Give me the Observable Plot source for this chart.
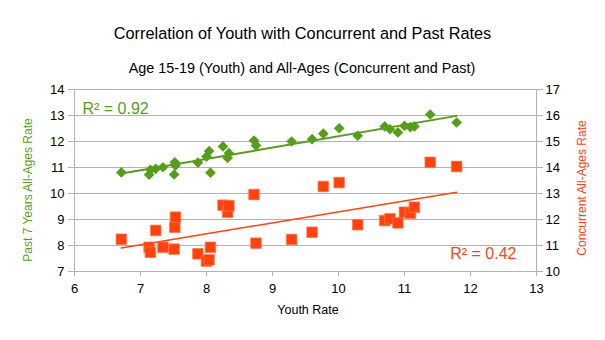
<!DOCTYPE html>
<html><head><meta charset="utf-8">
<script src="https://cdn.jsdelivr.net/npm/d3@7"></script>
<script src="https://cdn.jsdelivr.net/npm/@observablehq/plot@0.6"></script>
<style>body{margin:0;background:#fff;} svg{display:block}</style>
</head><body><div id="chart"></div>
<script>
const title = "Correlation of Youth with Concurrent and Past Rates";
const subtitle = "Age 15-19 (Youth) and All-Ages (Concurrent and Past)";
const xLabel = "Youth Rate";
const leftLabel = "Past 7 Years All-Ages Rate";
const rightLabel = "Concurrent All-Ages Rate";
const r2Labels = ["R² = 0.92", "R² = 0.42"];

const youth = [6.71, 7.13, 7.15, 7.23, 7.34, 7.51, 7.52, 7.53, 7.87, 8.00, 8.04, 8.06, 8.25, 8.32, 8.34, 8.72, 8.75, 9.29, 9.60, 9.77, 10.01, 10.29, 10.70, 10.78, 10.90, 11.00, 11.09, 11.15, 11.39, 11.79];
const past = [10.81, 10.72, 10.91, 10.95, 11.01, 10.73, 11.20, 11.08, 11.19, 11.42, 11.63, 10.80, 11.81, 11.37, 11.55, 12.04, 11.85, 12.00, 12.09, 12.30, 12.51, 12.22, 12.58, 12.47, 12.35, 12.60, 12.55, 12.58, 13.04, 12.73];
const concurrent = [11.24, 10.93, 10.74, 11.58, 10.93, 10.86, 11.70, 12.09, 10.68, 10.40, 10.45, 10.93, 12.55, 12.28, 12.53, 12.96, 11.09, 11.23, 11.51, 13.27, 13.42, 11.80, 11.96, 12.03, 11.87, 12.28, 12.24, 12.47, 14.20, 14.04];

const xTicks = [6, 7, 8, 9, 10, 11, 12, 13];
const leftTicks = [7, 8, 9, 10, 11, 12, 13, 14];
const rightTicks = [10, 11, 12, 13, 14, 15, 16, 17];

const green = "#579d1c", orange = "#ff420e", gridColor = "#b3b3b3";
const rows = youth.map((x, i) => ({youth: x, past: past[i], concurrent: concurrent[i]}));
const shift = rightTicks[0] - leftTicks[0];
const concY = d => d.concurrent - shift;
const font = "'Liberation Sans', Arial, sans-serif";

const chart = Plot.plot({
  width: 605, height: 340,
  marginTop: 89, marginBottom: 69, marginLeft: 74, marginRight: 69,
  style: {fontFamily: font, fontSize: "13px", background: "#fff", color: "#000", overflow: "visible"},
  x: {domain: [xTicks[0], xTicks[xTicks.length - 1]]},
  y: {domain: [leftTicks[0], leftTicks[leftTicks.length - 1]]},
  marks: [
    Plot.gridY(leftTicks, {stroke: gridColor, strokeOpacity: 1}),
    Plot.ruleX([xTicks[0], xTicks[xTicks.length - 1]], {stroke: gridColor}),
    Plot.axisX(xTicks, {tickSize: 5, tickPadding: 7, stroke: gridColor, fill: "#000", label: null, fontSize: 13}),
    Plot.axisY(leftTicks, {anchor: "left", tickSize: 6, tickPadding: 4, stroke: gridColor, fill: "#000", label: null, fontSize: 13}),
    Plot.axisY(leftTicks, {anchor: "right", tickSize: 6, tickPadding: 3, stroke: gridColor, fill: "#000", label: null, fontSize: 13, tickFormat: d => String(d + shift)}),
    Plot.linearRegressionY(rows, {x: "youth", y: "past", stroke: green, strokeWidth: 2, ci: 0}),
    Plot.linearRegressionY(rows, {x: "youth", y: concY, stroke: orange, strokeWidth: 1.5, ci: 0}),
    Plot.dot(rows, {x: "youth", y: "past", symbol: "diamond2", r: 4.8, fill: green}),
    Plot.dot(rows, {x: "youth", y: concY, symbol: "square", r: 6, fill: orange, stroke: "#ff7a55", strokeWidth: 0.7}),
    Plot.text([r2Labels[0]], {frameAnchor: "top-left", textAnchor: "start", dx: 8, dy: 13, fill: green, fontSize: 16}),
    Plot.text([r2Labels[1]], {frameAnchor: "bottom-right", textAnchor: "end", dx: -20, dy: -13, fill: orange, fontSize: 16}),
    Plot.text([title], {frameAnchor: "top", textAnchor: "middle", dx: -3, dy: -62, fill: "#000", fontSize: 16.3}),
    Plot.text([subtitle], {frameAnchor: "top", textAnchor: "middle", dx: -3.5, dy: -27, fill: "#000", fontSize: 14.4}),
    Plot.text([xLabel], {frameAnchor: "bottom", textAnchor: "middle", dx: 2.5, dy: 42, fill: "#000", fontSize: 12.5}),
    Plot.text([leftLabel], {frameAnchor: "left", textAnchor: "middle", rotate: -90, dx: -46.4, dy: 9.5, fill: green, fontSize: 12}),
    Plot.text([rightLabel], {frameAnchor: "right", textAnchor: "middle", rotate: -90, dx: 45.6, dy: 7.5, fill: orange, fontSize: 12})
  ]
});
document.getElementById("chart").append(chart);
</script>
</body></html>
